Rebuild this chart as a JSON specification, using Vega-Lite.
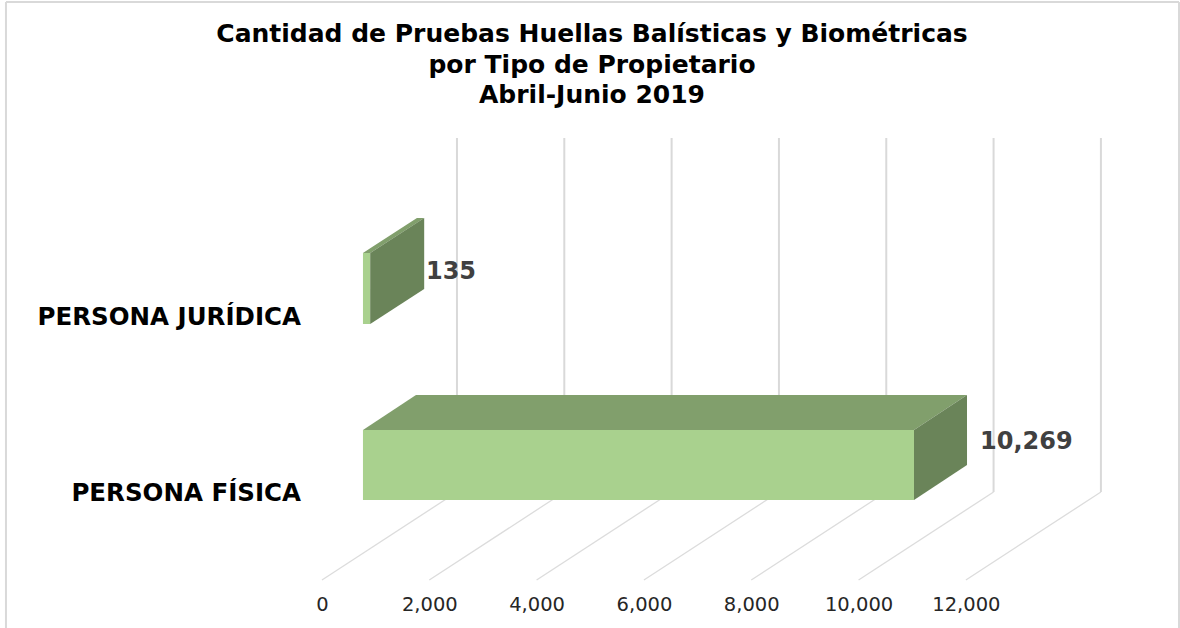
{
"$schema":"https://vega.github.io/schema/vega-lite/v6.json",
"width":1180,"height":628,"padding":0,"autosize":{"type":"none"},
"background":"white",
"config":{"view":{"stroke":null}},
"title":{"text":["Cantidad de Pruebas Huellas Balísticas y Biométricas","por Tipo de Propietario","Abril-Junio 2019"],"font":"DejaVu Sans","fontSize":25,"fontWeight":"bold","color":"#000000","lineHeight":30.5,"anchor":"middle","frame":"group","orient":"top","offset":-108,"dx":2},
"datasets":{
"rejilla":[
{"v":0,"x":0,"x2":2516,"y":0,"y2":1640,"parte":"piso"},
{"v":2000,"x":2000,"x2":4516,"y":0,"y2":1640,"parte":"piso"},
{"v":4000,"x":4000,"x2":6516,"y":0,"y2":1640,"parte":"piso"},
{"v":6000,"x":6000,"x2":8516,"y":0,"y2":1640,"parte":"piso"},
{"v":8000,"x":8000,"x2":10516,"y":0,"y2":1640,"parte":"piso"},
{"v":10000,"x":10000,"x2":12516,"y":0,"y2":1640,"parte":"piso"},
{"v":12000,"x":12000,"x2":14516,"y":0,"y2":1640,"parte":"piso"},
{"v":0,"x":2516,"x2":2516,"y":1640,"y2":8237,"parte":"pared"},
{"v":2000,"x":4516,"x2":4516,"y":1640,"y2":8237,"parte":"pared"},
{"v":4000,"x":6516,"x2":6516,"y":1640,"y2":8237,"parte":"pared"},
{"v":6000,"x":8516,"x2":8516,"y":1640,"y2":8237,"parte":"pared"},
{"v":8000,"x":10516,"x2":10516,"y":1640,"y2":8237,"parte":"pared"},
{"v":10000,"x":12516,"x2":12516,"y":1640,"y2":8237,"parte":"pared"},
{"v":12000,"x":14516,"x2":14516,"y":1640,"y2":8237,"parte":"pared"}
],
"marco":[
{"x":-5889,"x2":-5889,"y":-895,"y2":10772},
{"x":-5889,"x2":15971,"y":10772,"y2":10772},
{"x":15971,"x2":15971,"y":-895,"y2":10772}
],
"caras":[
{"barra":"fisica","cara":"frontal","x":764,"y":2795,"y2":1491},
{"barra":"fisica","cara":"frontal","x":11033,"y":2795,"y2":1491},
{"barra":"fisica","cara":"superior","x":764,"y":2795,"y2":2795},
{"barra":"fisica","cara":"superior","x":1752,"y":3447,"y2":2795},
{"barra":"fisica","cara":"superior","x":11033,"y":3447,"y2":2795},
{"barra":"fisica","cara":"superior","x":12021,"y":3447,"y2":3447},
{"barra":"fisica","cara":"lateral","x":11033,"y":2795,"y2":1491},
{"barra":"fisica","cara":"lateral","x":12021,"y":3447,"y2":2143},
{"barra":"juridica","cara":"frontal","x":764,"y":6094,"y2":4771},
{"barra":"juridica","cara":"frontal","x":899,"y":6094,"y2":4771},
{"barra":"juridica","cara":"superior","x":764,"y":6094,"y2":6094},
{"barra":"juridica","cara":"superior","x":899,"y":6181,"y2":6094},
{"barra":"juridica","cara":"superior","x":1770,"y":6746,"y2":6659},
{"barra":"juridica","cara":"superior","x":1905,"y":6746,"y2":6746},
{"barra":"juridica","cara":"lateral","x":899,"y":6094,"y2":4771},
{"barra":"juridica","cara":"lateral","x":1905,"y":6746,"y2":5423}
],
"categorias":[
{"x":-391,"y":4890,"t":"PERSONA JURÍDICA"},
{"x":-391,"y":1610,"t":"PERSONA FÍSICA"}
],
"valores":[
{"x":1938,"y":5740,"t":"135"},
{"x":12263,"y":2571,"t":"10,269"}
]
},
"layer":[
{"data":{"name":"marco"},"mark":{"type":"rule","color":"#d9d9d9","strokeWidth":2},
 "encoding":{"x":{"field":"x","type":"quantitative","scale":{"domain":[-6000,15990],"nice":false,"zero":false},"axis":{"values":[0,2000,4000,6000,8000,10000,12000],"labelExpr":"format(datum.value, ',')","title":null,"grid":false,"domain":false,"ticks":false,"orient":"bottom","offset":-48,"labelPadding":15,"labelFont":"DejaVu Sans","labelFontSize":19.5,"labelColor":"#262626","labelOverlap":false,"labelFlush":false}},
 "x2":{"field":"x2"},
 "y":{"field":"y","type":"quantitative","scale":{"domain":[-895,10809],"nice":false,"zero":false},"axis":null},
 "y2":{"field":"y2"}}},
{"data":{"name":"rejilla"},"transform":[{"filter":"datum.parte === 'piso'"}],"mark":{"type":"rule","color":"#dcdcdc","strokeWidth":1.3},
 "encoding":{"x":{"field":"x","type":"quantitative"},"x2":{"field":"x2"},"y":{"field":"y","type":"quantitative"},"y2":{"field":"y2"}}},
{"data":{"name":"rejilla"},"transform":[{"filter":"datum.parte === 'pared'"}],"mark":{"type":"rule","color":"#d9d9d9","strokeWidth":2},
 "encoding":{"x":{"field":"x","type":"quantitative"},"x2":{"field":"x2"},"y":{"field":"y","type":"quantitative"},"y2":{"field":"y2"}}},
{"data":{"name":"caras"},"mark":{"type":"area","interpolate":"linear","opacity":1},
 "encoding":{"x":{"field":"x","type":"quantitative"},"y":{"field":"y","type":"quantitative"},"y2":{"field":"y2"},
 "detail":{"field":"barra"},
 "color":{"field":"cara","type":"nominal","scale":{"domain":["frontal","superior","lateral"],"range":["#a9d18e","#819f6c","#6a8459"]},"legend":null}}},
{"data":{"name":"categorias"},"mark":{"type":"text","align":"right","baseline":"middle","font":"DejaVu Sans","fontWeight":"bold","fontSize":24.5,"color":"#000000"},
 "encoding":{"x":{"field":"x","type":"quantitative"},"y":{"field":"y","type":"quantitative"},"text":{"field":"t"}}},
{"data":{"name":"valores"},"mark":{"type":"text","align":"left","baseline":"middle","font":"DejaVu Sans","fontWeight":"bold","fontSize":24,"color":"#404040"},
 "encoding":{"x":{"field":"x","type":"quantitative"},"y":{"field":"y","type":"quantitative"},"text":{"field":"t"}}}
]
}
